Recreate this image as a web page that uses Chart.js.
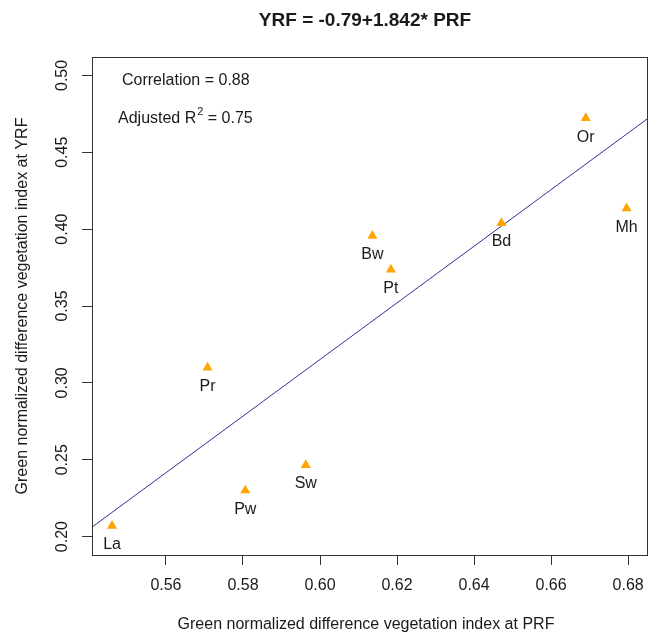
<!DOCTYPE html>
<html>
<head>
<meta charset="utf-8">
<script src="https://cdn.jsdelivr.net/npm/chart.js@4.4.1/dist/chart.umd.min.js"></script>
<style>
  html, body { margin: 0; padding: 0; background: #fff; }
  #wrap { width: 657px; height: 633px; }
</style>
</head>
<body>
<div id="wrap"><canvas id="Chart" width="657" height="633"></canvas></div>
<script>
// sites and their GNDVI at PRF (x) and YRF (y)
const sites = ['La', 'Pr', 'Pw', 'Sw', 'Bw', 'Pt', 'Bd', 'Or', 'Mh'];
const prfValues = [0.546, 0.5708, 0.5806, 0.5963, 0.6136, 0.6184, 0.6471, 0.669, 0.6796];
const yrfValues = [0.207, 0.310, 0.230, 0.2465, 0.3957, 0.3737, 0.404, 0.4722, 0.4135];

// fitted line from the title
const intercept = -0.79;
const slope = 1.842;

const xTicks = [0.56, 0.58, 0.60, 0.62, 0.64, 0.66, 0.68];
const yTicks = [0.20, 0.25, 0.30, 0.35, 0.40, 0.45, 0.50];
const xMin = 0.5408, xMax = 0.6849;
const yMin = 0.188, yMax = 0.512;

const FONT = '"Liberation Sans", Arial, sans-serif';
const INK = '#1a1a1a';

let points = sites.map(function (s, i) {
    return {x: prfValues[i], y: yrfValues[i]};
});
let fitLine = [
    {x: xMin, y: intercept + slope * xMin},
    {x: xMax, y: intercept + slope * xMax}
];

// texts, box and labels drawn on top of the chart
const decorations = {
    id: 'decorations',
    afterDatasetsDraw: function (chart) {
        const ctx = chart.ctx;
        const area = chart.chartArea;
        const xs = chart.scales.x, ys = chart.scales.y;
        ctx.save();

        ctx.strokeStyle = '#333';
        ctx.lineWidth = 1;
        ctx.strokeRect(Math.round(area.left) + 0.5, Math.round(area.top) + 0.5,
            Math.round(area.right - area.left), Math.round(area.bottom - area.top));

        ctx.fillStyle = INK;
        ctx.textAlign = 'center';
        ctx.textBaseline = 'middle';
        ctx.font = '16px ' + FONT;
        sites.forEach(function (s, i) {
            let px = xs.getPixelForValue(prfValues[i]);
            let py = ys.getPixelForValue(yrfValues[i]);
            ctx.fillText(s, px, py + 19);
        });

        ctx.textBaseline = 'alphabetic';
        ctx.font = 'bold 19px ' + FONT;
        ctx.fillText('YRF = -0.79+1.842* PRF', 365, 26);

        ctx.font = '16px ' + FONT;
        ctx.fillText('Green normalized difference vegetation index at PRF', 366, 629);

        ctx.save();
        ctx.translate(27, 306);
        ctx.rotate(-Math.PI / 2);
        ctx.fillText('Green normalized difference vegetation index at YRF', 0, 0);
        ctx.restore();

        ctx.textAlign = 'left';
        ctx.fillText('Correlation = 0.88', 122, 85);
        let part1 = 'Adjusted R';
        ctx.fillText(part1, 118, 123);
        let w1 = ctx.measureText(part1).width;
        ctx.font = '11px ' + FONT;
        ctx.fillText('2', 118 + w1 + 1, 115);
        let w2 = ctx.measureText('2').width;
        ctx.font = '16px ' + FONT;
        ctx.fillText(' = 0.75', 118 + w1 + w2 + 1, 123);

        ctx.restore();
    }
};

let chart = new Chart(document.getElementById('Chart'), {
    type: 'scatter',
    data: {
        datasets: [
            {
                label: 'sites',
                data: points,
                pointStyle: 'triangle',
                pointRadius: 5.8,
                pointHoverRadius: 5.8,
                backgroundColor: '#FFA500',
                borderColor: '#FFA500',
                borderWidth: 0,
                order: 1
            },
            {
                label: 'fit',
                data: fitLine,
                showLine: true,
                borderColor: '#2f2f9a',
                borderWidth: 1,
                pointRadius: 0,
                order: 2
            }
        ]
    },
    options: {
        responsive: false,
        animation: false,
        events: [],
        layout: {padding: {top: 57, right: 10, left: 0, bottom: 0}},
        plugins: {
            legend: {display: false},
            tooltip: {enabled: false},
            title: {display: false}
        },
        scales: {
            x: {
                type: 'linear',
                min: xMin,
                max: xMax,
                afterFit: function (scale) { scale.height = 78; },
                afterBuildTicks: function (scale) {
                    scale.ticks = xTicks.map(function (v) { return {value: v}; });
                },
                grid: {drawOnChartArea: false, drawTicks: true, tickLength: 10, color: '#333'},
                border: {display: true, color: '#333'},
                ticks: {
                    padding: 11,
                    color: INK,
                    font: {family: FONT, size: 16},
                    maxRotation: 0,
                    autoSkip: false,
                    callback: function (v) { return Number(v).toFixed(2); }
                }
            },
            y: {
                type: 'linear',
                min: yMin,
                max: yMax,
                afterFit: function (scale) { scale.width = 92; },
                afterBuildTicks: function (scale) {
                    scale.ticks = yTicks.map(function (v) { return {value: v}; });
                },
                grid: {drawOnChartArea: false, drawTicks: true, tickLength: 10, color: '#333'},
                border: {display: true, color: '#333'},
                ticks: {
                    padding: 4,
                    color: INK,
                    font: {family: FONT, size: 16},
                    minRotation: 90,
                    maxRotation: 90,
                    crossAlign: 'center',
                    autoSkip: false,
                    callback: function (v) { return Number(v).toFixed(2); }
                }
            }
        }
    },
    plugins: [decorations]
});
</script>
</body>
</html>
